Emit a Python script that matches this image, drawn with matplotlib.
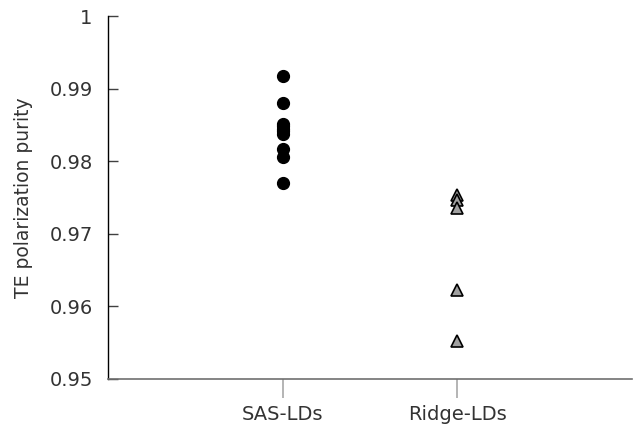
import matplotlib

matplotlib.use("Agg")
import matplotlib.pyplot as plt

plt.rcParams["font.family"] = ["DejaVu Sans"]

categories = ["SAS-LDs", "Ridge-LDs"]
sas_values = [0.9918, 0.9880, 0.9851, 0.9848, 0.9845, 0.9842, 0.9838, 0.9817, 0.9806, 0.9770]
ridge_values = [0.9753, 0.9746, 0.9735, 0.9622, 0.9552]
y_ticks = [0.95, 0.96, 0.97, 0.98, 0.99, 1.0]
y_labels = ["0.95", "0.96", "0.97", "0.98", "0.99", "1"]

fig = plt.figure(figsize=(6.41, 4.30), dpi=100)
ax = fig.add_axes([108 / 641, 1 - 379 / 430, 524 / 641, 363 / 430])

ax.plot([1] * len(sas_values), sas_values, "o", color="black",
        markersize=8.5, linestyle="none", zorder=3, clip_on=False)
ax.plot([2] * len(ridge_values), ridge_values, "^", markerfacecolor="#a0a0a0",
        markeredgecolor="black", markeredgewidth=1.2, markersize=8,
        linestyle="none", zorder=3, clip_on=False)

ax.set_xlim(0, 3)
ax.set_ylim(0.95, 1.0)
ax.set_yticks(y_ticks, labels=y_labels)
ax.set_xticks([1, 2], labels=categories)
# short stubs above the axis at each category
ax.set_xticks([1, 2], minor=True)

ax.spines[["top", "right"]].set_visible(False)
ax.spines["left"].set_color("black")
ax.spines["left"].set_linewidth(1.0)
ax.spines["bottom"].set_color("#707070")
ax.spines["bottom"].set_linewidth(1.2)

ax.tick_params(axis="y", direction="in", length=7, width=1.0, color="#404040",
               labelsize=14, pad=11, labelcolor="#333333")
ax.tick_params(axis="x", which="major", direction="out", length=14, width=1.2,
               color="#a8a8a8", labelsize=14, pad=5, labelcolor="#333333")
ax.tick_params(axis="x", which="minor", direction="in", length=8, width=1.2,
               color="#a8a8a8")

ax.set_ylabel("TE polarization purity", fontsize=13.5, color="#333333", labelpad=12)

fig.savefig("out.png", dpi=100, facecolor="white")
